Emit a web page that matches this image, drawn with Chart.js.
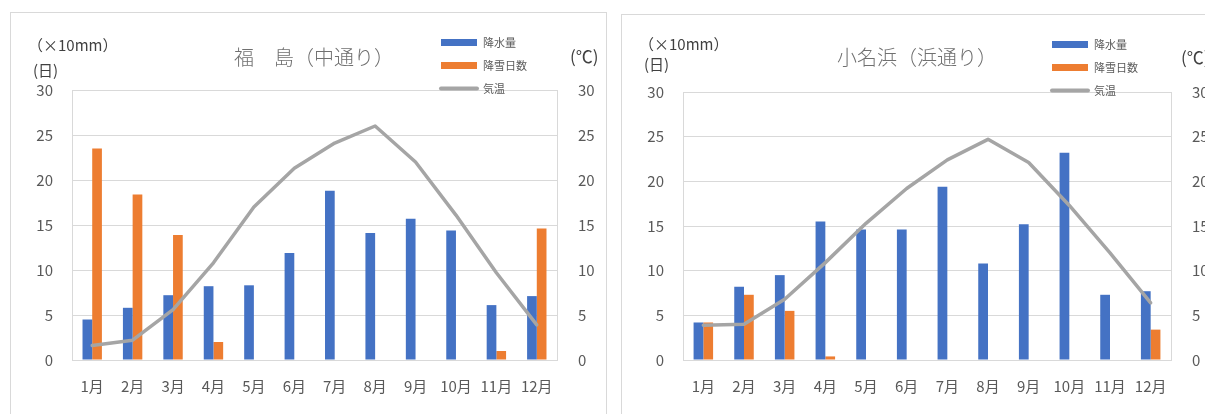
<!DOCTYPE html>
<html>
<head>
<meta charset="utf-8">
<script src="https://cdn.jsdelivr.net/npm/chart.js@4.4.1/dist/chart.umd.min.js"></script>
<style>
  html, body { margin: 0; padding: 0; background: #fff; overflow: hidden; width: 1205px; height: 414px; }
  .frame { position: absolute; border: 1px solid #d9d9d9; box-sizing: border-box; }
  canvas { position: absolute; }
</style>
</head>
<body>
<div class="frame" style="left:10px;top:12px;width:597px;height:420px;"></div>
<canvas id="fukushima" style="left:10px;top:12px;"></canvas>
<div class="frame" style="left:621px;top:14px;width:597px;height:420px;"></div>
<canvas id="onahama" style="left:621px;top:14px;"></canvas>
<script>
// Monthly climate normals for two Fukushima stations
const months = ['1月', '2月', '3月', '4月', '5月', '6月', '7月', '8月', '9月', '10月', '11月', '12月'];

// 福島 (中通り)
const fukushimaPrecip = [4.5, 5.8, 7.2, 8.2, 8.3, 11.9, 18.8, 14.1, 15.7, 14.4, 6.1, 7.1];   // ×10mm
const fukushimaSnow   = [23.5, 18.4, 13.9, 2.0, 0, 0, 0, 0, 0, 0, 1.0, 14.6];                // days
const fukushimaTemp   = [1.6, 2.2, 5.6, 10.8, 17.0, 21.3, 24.1, 26.0, 22.0, 16.1, 9.7, 3.9]; // ℃

// 小名浜 (浜通り)
const onahamaPrecip = [4.2, 8.2, 9.5, 15.5, 14.6, 14.6, 19.4, 10.8, 15.2, 23.2, 7.3, 7.7];
const onahamaSnow   = [4.2, 7.3, 5.5, 0.4, 0, 0, 0, 0, 0, 0, 0, 3.4];
const onahamaTemp   = [3.9, 4.0, 6.8, 10.9, 15.3, 19.2, 22.4, 24.7, 22.1, 17.3, 12.0, 6.4];

const axisTicks = [0, 5, 10, 15, 20, 25, 30];

const JP = "'Noto Sans CJK JP', 'Noto Sans', sans-serif";
const BLUE = '#4472c4', ORANGE = '#ed7d31', GRAY = '#a5a5a5', GRID = '#d9d9d9', TEXT = '#595959';

// Draws the title, unit captions and the legend on the canvas
const decorations = {
  id: 'decorations',
  afterDraw(chart, args, o) {
    const ctx = chart.ctx;
    ctx.save();
    ctx.textBaseline = 'middle';

    ctx.fillStyle = '#707070';
    ctx.font = `300 20px ${JP}`;
    ctx.textAlign = 'center';
    ctx.fillText(o.title, o.titleX, o.titleY);

    ctx.fillStyle = '#404040';
    ctx.font = `15px ${JP}`;
    ctx.textAlign = 'left';
    ctx.fillText('（×10mm）', o.unitX, o.unitY1);
    ctx.fillText('(日)', o.unitX + 5, o.unitY2);
    ctx.font = `17px ${JP}`;
    ctx.fillText('(℃)', o.degX, o.degY);

    // legend, in the order precipitation / snow days / temperature
    const ds = chart.data.datasets;
    const byLabel = l => ds.find(d => d.label === l);
    const entries = ['降水量', '降雪日数', '気温'].map(byLabel);
    ctx.font = `11px ${JP}`;
    entries.forEach((d, i) => {
      const y = o.legY + i * 23;
      if (d.type === 'line') {
        ctx.strokeStyle = d.borderColor;
        ctx.lineWidth = 4;
        ctx.lineCap = 'round';
        ctx.beginPath();
        ctx.moveTo(o.legX, y);
        ctx.lineTo(o.legX + 36, y);
        ctx.stroke();
      } else {
        ctx.fillStyle = d.backgroundColor;
        ctx.fillRect(o.legX, y - 3.5, 36, 7);
      }
      ctx.fillStyle = TEXT;
      ctx.fillText(d.label, o.legX + 42, y);
    });
    ctx.restore();
  }
};

function makeChart(id, precip, snow, temp, L) {
  const canvas = document.getElementById(id);
  canvas.width = L.w;
  canvas.height = L.h;
  const tickFont = { family: JP, size: 15 };
  return new Chart(canvas, {
    data: {
      labels: months,
      datasets: [
        { type: 'line', label: '気温', data: temp, yAxisID: 'y1', borderColor: GRAY, borderWidth: 3.5,
          pointRadius: 0, tension: 0, borderCapStyle: 'round', borderJoinStyle: 'round', order: 0 },
        { type: 'bar', label: '降水量', data: precip, yAxisID: 'y', backgroundColor: BLUE, order: 1,
          categoryPercentage: 0.48, barPercentage: 1.0 },
        { type: 'bar', label: '降雪日数', data: snow, yAxisID: 'y', backgroundColor: ORANGE, order: 1,
          categoryPercentage: 0.48, barPercentage: 1.0 }
      ]
    },
    options: {
      responsive: false,
      animation: false,
      layout: { padding: { top: L.plotTop, left: 0, right: 0, bottom: 0 } },
      plugins: {
        legend: { display: false },
        tooltip: { enabled: false },
        decorations: L.deco
      },
      scales: {
        x: {
          grid: { display: false, drawTicks: false },
          border: { display: true, color: GRID },
          ticks: { color: TEXT, font: tickFont, padding: 17, maxRotation: 0, autoSkip: false },
          afterFit(s) { s.height = L.h - L.plotBottom; }
        },
        y: {
          position: 'left', min: 0, max: 30,
          afterBuildTicks(s) { s.ticks = axisTicks.map(v => ({ value: v })); },
          grid: { color: GRID, drawTicks: false },
          border: { display: true, color: GRID },
          ticks: { color: TEXT, font: tickFont, padding: 19 },
          afterFit(s) { s.width = L.plotLeft; }
        },
        y1: {
          position: 'right', min: 0, max: 30,
          afterBuildTicks(s) { s.ticks = axisTicks.map(v => ({ value: v })); },
          grid: { display: false, drawTicks: false },
          border: { display: true, color: GRID },
          ticks: { color: TEXT, font: tickFont, padding: 21 },
          afterFit(s) { s.width = L.w - L.plotRight; }
        }
      }
    },
    plugins: [decorations]
  });
}

makeChart('fukushima', fukushimaPrecip, fukushimaSnow, fukushimaTemp, {
  w: 596, h: 402, plotLeft: 62, plotRight: 547, plotTop: 78, plotBottom: 348,
  deco: { title: '福　島（中通り）', titleX: 304, titleY: 45,
          unitX: 18, unitY1: 33, unitY2: 58, degX: 560, degY: 45,
          legX: 431, legY: 30.5 }
});

makeChart('onahama', onahamaPrecip, onahamaSnow, onahamaTemp, {
  w: 596, h: 400, plotLeft: 62, plotRight: 550, plotTop: 78, plotBottom: 346,
  deco: { title: '小名浜（浜通り）', titleX: 296, titleY: 43,
          unitX: 18, unitY1: 30, unitY2: 50, degX: 560, degY: 44,
          legX: 431, legY: 30.5 }
});
</script>
</body>
</html>
